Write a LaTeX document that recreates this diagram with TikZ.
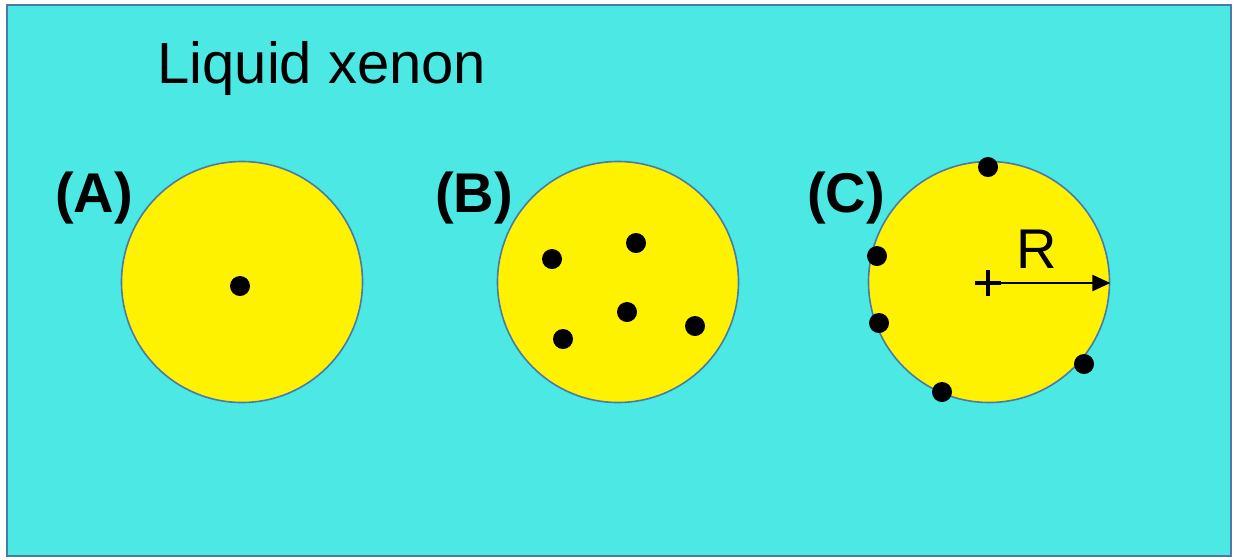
\documentclass[tikz,border=0pt]{standalone}
\usepackage{fontspec}
\setmainfont{Liberation Sans}
\usetikzlibrary{arrows.meta}
\definecolor{xenon}{RGB}{75,232,228}
\definecolor{rim}{RGB}{74,122,168}
\begin{document}
\begin{tikzpicture}[x=0.5pt, y=-0.5pt, font=\fontsize{28}{32}\selectfont,
  drop/.style = {draw=rim, line width=0.8pt, fill=yellow, circle, minimum size=120.5pt, inner sep=0pt},
  atom/.style = {fill=black, circle, minimum size=10pt, inner sep=0pt},
  tag/.style = {font=\fontsize{28}{32}\selectfont\bfseries, anchor=base, inner sep=0pt}]
    \useasboundingbox (0,0) rectangle (1237,559);
    \draw[rim, line width=1pt, fill=xenon] (7,5) rectangle (1231,556);
    \node[anchor=base west, inner sep=0pt, font=\fontsize{29}{33}\selectfont] (title) at (157,83) {Liquid xenon};
    % three droplets
    \node[drop] (a) at (242,282) {};
    \node[drop] (b) at (618,282) {};
    \node[drop] (c) at (989,282) {};
    \node[tag] (la) at (94,212) {(A)};
    \node[tag] (lb) at (474,212) {(B)};
    \node[tag] (lc) at (846,212) {(C)};
    % atoms
    \node[atom] (a1) at (240,286) {};
    \node[atom] (b1) at (552,259) {};
    \node[atom] (b2) at (636,243) {};
    \node[atom] (b3) at (627,312) {};
    \node[atom] (b4) at (563,339) {};
    \node[atom] (b5) at (695,326) {};
    \node[atom] (c1) at (988,167) {};
    \node[atom] (c2) at (877,256) {};
    \node[atom] (c3) at (879,323) {};
    \node[atom] (c4) at (1084,364) {};
    \node[atom] (c5) at (942,392) {};
    % radius
    \coordinate (c0) at (988,283);
    \draw[line width=2pt] ([xshift=-6.5pt]c0) -- ([xshift=6.5pt]c0);
    \draw[line width=2pt] ([yshift=-6.5pt]c0) -- ([yshift=6.5pt]c0);
    \draw[line width=1.35pt, -{Triangle[length=9pt, width=8pt]}] (c0) -- (c0 -| c.east);
    \node[anchor=base, inner sep=0pt] (r) at (1037,268) {R};
\end{tikzpicture}
\end{document}
